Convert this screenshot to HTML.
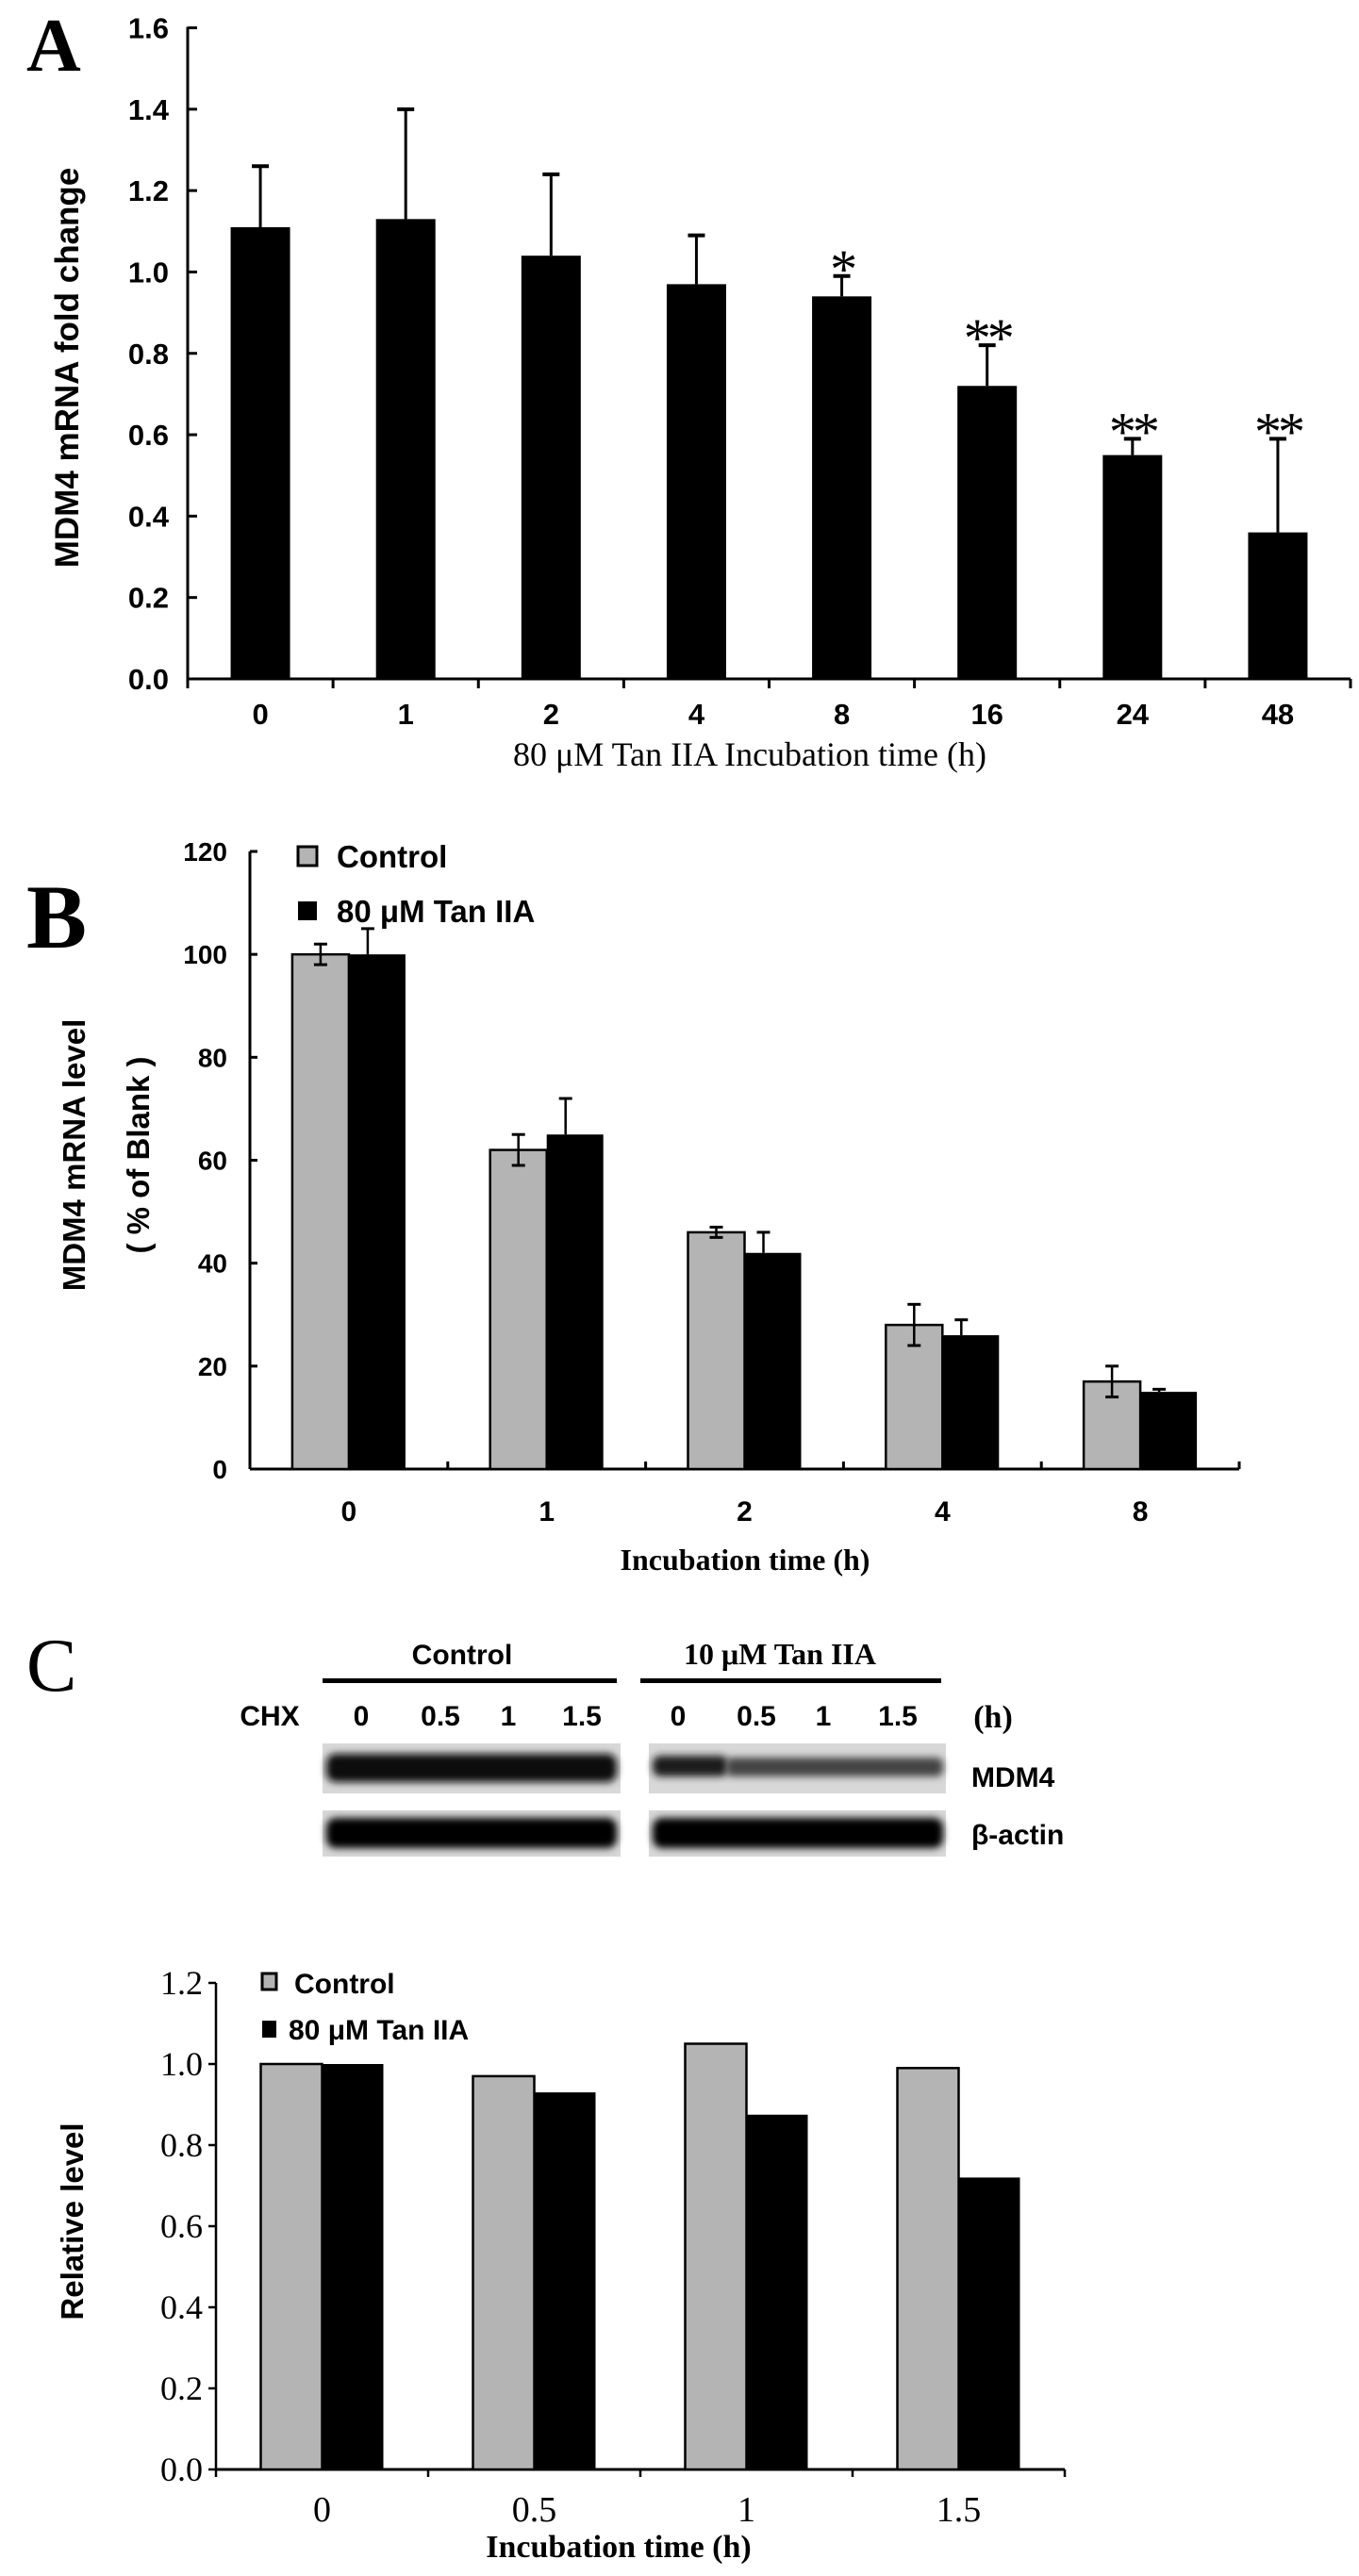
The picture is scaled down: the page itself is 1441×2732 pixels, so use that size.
<!DOCTYPE html>
<html><head><meta charset="utf-8"><style>
html,body{margin:0;padding:0;background:#fff;}
svg{display:block;}
.tk{font-family:"Liberation Sans",sans-serif;font-weight:bold;}
.sf{font-family:"Liberation Serif",serif;}
</style></head><body>
<svg id="fig" width="1441" height="2732" viewBox="0 0 1441 2732" xmlns="http://www.w3.org/2000/svg">
<g id="pa">
<text x="28" y="75" class="sf" font-size="80" font-weight="bold">A</text>
<text transform="translate(83,390) rotate(-90)" text-anchor="middle" class="tk" font-size="35">MDM4 mRNA fold change</text>
<text x="795" y="812" text-anchor="middle" class="sf" font-size="36">80 μM Tan IIA Incubation time (h)</text>
</g>
<g id="pb">
<text x="28" y="1005" class="sf" font-size="96" font-weight="bold">B</text>
<text transform="translate(90,1225) rotate(-90)" text-anchor="middle" class="tk" font-size="33">MDM4 mRNA level</text>
<text transform="translate(158,1225) rotate(-90)" text-anchor="middle" class="tk" font-size="33">( % of Blank )</text>
<text x="790" y="1665" text-anchor="middle" class="sf" font-size="32" font-weight="bold">Incubation time (h)</text>
<rect x="316" y="898" width="20" height="20" fill="#b4b4b4" stroke="#000" stroke-width="3"/>
<text x="357" y="920" class="tk" font-size="33">Control</text>
<rect x="316" y="956" width="20" height="20" fill="#000"/>
<text x="357" y="978" class="tk" font-size="33" font-weight="normal">80 μM Tan IIA</text>
</g>
<g id="pc">
<text x="28" y="1793" class="sf" font-size="80">C</text>
<text x="490" y="1765" text-anchor="middle" class="tk" font-size="30">Control</text>
<text x="827" y="1765" text-anchor="middle" class="sf" font-size="32" font-weight="bold">10 μM Tan IIA</text>
<rect x="342" y="1780" width="312" height="5" fill="#000"/>
<rect x="679" y="1780" width="319" height="5" fill="#000"/>
<g class="tk" font-size="30" text-anchor="middle">
<text x="286" y="1830">CHX</text>
<text x="383" y="1830">0</text><text x="467" y="1830">0.5</text><text x="539" y="1830">1</text><text x="617" y="1830">1.5</text>
<text x="719" y="1830">0</text><text x="802" y="1830">0.5</text><text x="873" y="1830">1</text><text x="952" y="1830">1.5</text>
</g>
<text x="1053" y="1832" text-anchor="middle" class="sf" font-size="34" font-weight="bold">(h)</text>
<defs>
<filter id="blur" x="-10%" y="-50%" width="120%" height="200%"><feGaussianBlur stdDeviation="4"/></filter>
</defs>
<g>
<rect x="342" y="1849" width="316" height="53" fill="#d8d8d8"/>
<rect x="346" y="1860" width="308" height="30" rx="10" fill="#0a0a0a" filter="url(#blur)"/>
</g>
<g>
<rect x="688" y="1849" width="315" height="53" fill="#d8d8d8"/>
<rect x="692" y="1862" width="80" height="22" rx="8" fill="#1a1a1a" filter="url(#blur)"/>
<rect x="770" y="1864" width="230" height="20" rx="7" fill="#444" filter="url(#blur)"/>
</g>
<g>
<rect x="342" y="1920" width="316" height="49" fill="#d8d8d8"/>
<rect x="346" y="1928" width="308" height="32" rx="10" fill="#050505" filter="url(#blur)"/>
</g>
<g>
<rect x="688" y="1920" width="315" height="49" fill="#d8d8d8"/>
<rect x="692" y="1928" width="308" height="32" rx="10" fill="#050505" filter="url(#blur)"/>
</g>
<text x="1030" y="1895" class="tk" font-size="30">MDM4</text>
<text x="1030" y="1956" class="tk" font-size="30">β-actin</text>
<text transform="translate(88,2356) rotate(-90)" text-anchor="middle" class="tk" font-size="33">Relative level</text>
<text x="656" y="2712" text-anchor="middle" class="sf" font-size="34" font-weight="bold">Incubation time (h)</text>
<rect x="278" y="2093" width="15" height="17" fill="#b4b4b4" stroke="#000" stroke-width="3"/>
<text x="312" y="2114" class="tk" font-size="30">Control</text>
<rect x="278" y="2143" width="15" height="18" fill="#000"/>
<text x="306" y="2163" class="tk" font-size="30">80 μM Tan IIA</text>
</g>
</svg>
<script>
// Panel A data
const catsA = ['0','1','2','4','8','16','24','48'];
const valsA = [1.11, 1.13, 1.04, 0.97, 0.94, 0.72, 0.55, 0.36];
const errA = [0.15, 0.27, 0.20, 0.12, 0.05, 0.10, 0.04, 0.23];
const sigA = ['', '', '', '', '*', '**', '**', '**'];
const ticksA = ['0.0','0.2','0.4','0.6','0.8','1.0','1.2','1.4','1.6'];
// Panel B data
const catsB = ['0','1','2','4','8'];
const ctrlB = [100, 62, 46, 28, 17];
const ctrlErrB = [2, 3, 1, 4, 3];
const tanB = [100, 65, 42, 26, 15];
const tanErrB = [5, 7, 4, 3, 0.5];
const ticksB = ['0','20','40','60','80','100','120'];
// Panel C data
const catsC = ['0','0.5','1','1.5'];
const ctrlC = [1.00, 0.97, 1.05, 0.99];
const tanC = [1.00, 0.93, 0.875, 0.72];
const ticksC = ['0.0','0.2','0.4','0.6','0.8','1.0','1.2'];

const NS = 'http://www.w3.org/2000/svg';
function mk(parent, tag, attrs, text) {
  const e = document.createElementNS(NS, tag);
  for (const k in attrs) e.setAttribute(k, attrs[k]);
  if (text !== undefined) e.textContent = text;
  parent.appendChild(e);
  return e;
}
function line(p, x1, y1, x2, y2, w) {
  return mk(p, 'line', {x1: x1, y1: y1, x2: x2, y2: y2, stroke: '#000', 'stroke-width': w || 3});
}

// ---------- Panel A ----------
(function () {
  const g = document.getElementById('pa');
  const x0 = 199, x1 = 1432, y0 = 720, yTop = 29.5, max = 1.6;
  const y = v => y0 - (v / max) * (y0 - yTop);
  const band = (x1 - x0) / catsA.length;
  const cx = i => x0 + band * (i + 0.5);
  const ax = mk(g, 'g', {});
  
  
  line(ax, x0, yTop - 1, x0, y0 + 1, 3);
  ticksA.forEach(t => {
    const yy = y(parseFloat(t));
    line(ax, x0, yy, x0 + 10, yy, 3);
    const tl = mk(ax, 'text', {x: x0 - 20, y: yy + 11, 'text-anchor': 'end', class: 'tk', 'font-size': 31}, t);
    
    
  });
  const xa = mk(g, 'g', {});
  
  
  line(xa, x0, y0, x1, y0, 3);
  for (let i = 0; i <= catsA.length; i++) line(xa, x0 + band * i, y0, x0 + band * i, y0 + 10, 3);
  catsA.forEach((c, i) => {
    const tl = mk(xa, 'text', {x: cx(i), y: y0 + 48, 'text-anchor': 'middle', class: 'tk', 'font-size': 31}, c);
    
    
  });
  const bw = 63;
  valsA.forEach((v, i) => {
    const b = mk(g, 'rect', {x: cx(i) - bw / 2, y: y(v), width: bw, height: y0 - y(v), fill: '#000'});
    
    
    const eg = mk(g, 'g', {});
    
    
    const top = y(v + errA[i]);
    line(eg, cx(i), y(v), cx(i), top, 3);
    line(eg, cx(i) - 9, top, cx(i) + 9, top, 4);
    if (sigA[i]) {
      const s = mk(g, 'text', {x: cx(i), y: top + 12, 'text-anchor': 'middle', class: 'sf', 'font-size': 58, 'letter-spacing': -4}, sigA[i]);
      
      
    }
  });
})();

// ---------- Panel B ----------
(function () {
  const g = document.getElementById('pb');
  const x0 = 265, x1 = 1314, y0 = 1558, yTop = 903, max = 120;
  const y = v => y0 - (v / max) * (y0 - yTop);
  const band = (x1 - x0) / catsB.length;
  const cx = i => x0 + band * (i + 0.5);
  const ax = mk(g, 'g', {});
  
  
  line(ax, x0, yTop, x0, y0, 3);
  ticksB.forEach(t => {
    const yy = y(parseFloat(t));
    line(ax, x0, yy, x0 + 8, yy, 3);
    const tl = mk(ax, 'text', {x: x0 - 24, y: yy + 10, 'text-anchor': 'end', class: 'tk', 'font-size': 28}, t);
    
    
  });
  const xa = mk(g, 'g', {});
  
  
  line(xa, x0, y0, x1, y0, 3);
  for (let i = 0; i <= catsB.length; i++) line(xa, x0 + band * i, y0, x0 + band * i, y0 - 8, 3);
  catsB.forEach((c, i) => {
    const tl = mk(xa, 'text', {x: cx(i), y: y0 + 55, 'text-anchor': 'middle', class: 'tk', 'font-size': 30}, c);
    
    
  });
  const bw = 60;
  catsB.forEach((c, i) => {
    const gx = cx(i) - bw, tx = cx(i);
    const gb = mk(g, 'rect', {x: gx, y: y(ctrlB[i]), width: bw, height: y0 - y(ctrlB[i]), fill: '#b4b4b4', stroke: '#000', 'stroke-width': 2.5});
    
    
    const tb = mk(g, 'rect', {x: tx, y: y(tanB[i]), width: bw, height: y0 - y(tanB[i]), fill: '#000'});
    
    
    const e1 = mk(g, 'g', {});
    
    
    const mx = gx + bw / 2, lo = y(ctrlB[i] - ctrlErrB[i]), hi = y(ctrlB[i] + ctrlErrB[i]);
    line(e1, mx, lo, mx, hi, 2.5);
    line(e1, mx - 7, lo, mx + 7, lo, 3);
    line(e1, mx - 7, hi, mx + 7, hi, 3);
    const e2 = mk(g, 'g', {});
    
    
    const mx2 = tx + bw / 2 - 10, hi2 = y(tanB[i] + tanErrB[i]);
    line(e2, mx2, y(tanB[i]), mx2, hi2, 2.5);
    line(e2, mx2 - 7, hi2, mx2 + 7, hi2, 3);
  });
})();

// ---------- Panel C chart ----------
(function () {
  const g = document.getElementById('pc');
  const x0 = 229, x1 = 1129, y0 = 2619, yTop = 2103, max = 1.2;
  const y = v => y0 - (v / max) * (y0 - yTop);
  const band = (x1 - x0) / catsC.length;
  const cx = i => x0 + band * (i + 0.5);
  const ax = mk(g, 'g', {});
  
  
  line(ax, x0, yTop, x0, y0, 2.5);
  ticksC.forEach(t => {
    const yy = y(parseFloat(t));
    line(ax, x0 - 8, yy, x0, yy, 2.5);
    const tl = mk(ax, 'text', {x: x0 - 14, y: yy + 12, 'text-anchor': 'end', class: 'sf', 'font-size': 36}, t);
    
    
  });
  const xa = mk(g, 'g', {});
  
  
  line(xa, x0, y0, x1, y0, 3);
  for (let i = 0; i <= catsC.length; i++) line(xa, x0 + band * i, y0, x0 + band * i, y0 + 8, 2.5);
  catsC.forEach((c, i) => {
    const tl = mk(xa, 'text', {x: cx(i), y: y0 + 55, 'text-anchor': 'middle', class: 'sf', 'font-size': 38}, c);
    
    
  });
  const bw = 65;
  catsC.forEach((c, i) => {
    const gb = mk(g, 'rect', {x: cx(i) - bw, y: y(ctrlC[i]), width: bw, height: y0 - y(ctrlC[i]), fill: '#b4b4b4', stroke: '#000', 'stroke-width': 2.5});
    
    
    const tb = mk(g, 'rect', {x: cx(i), y: y(tanC[i]), width: bw, height: y0 - y(tanC[i]), fill: '#000'});
    
    
  });
})();
</script>
</body></html>
